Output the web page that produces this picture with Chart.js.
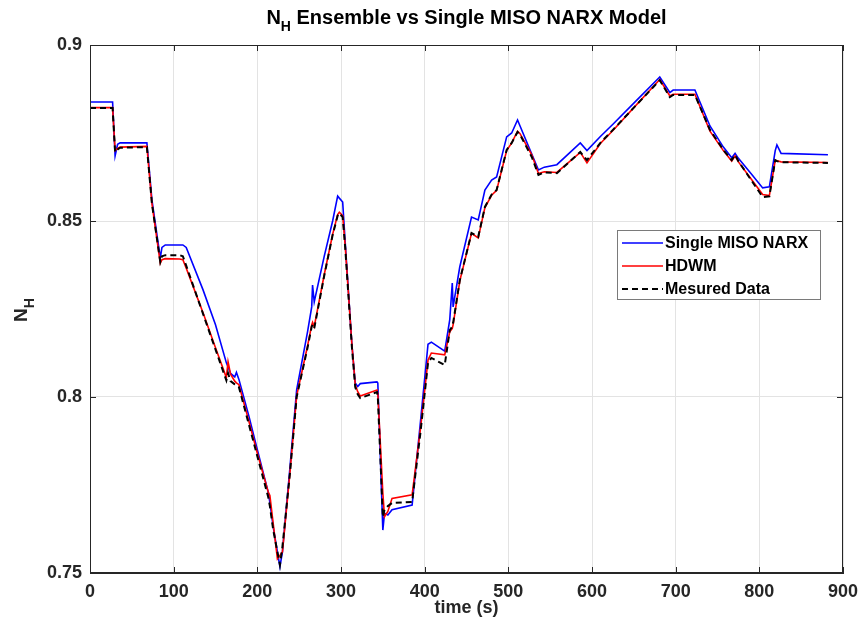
<!DOCTYPE html>
<html>
<head>
<meta charset="utf-8">
<script src="https://cdn.jsdelivr.net/npm/chart.js@4.4.1/dist/chart.umd.min.js"></script>
<style>
  body { margin: 0; background: #fff; }
  #wrap { width: 863px; height: 633px; }
</style>
</head>
<body>
<div id="wrap"><canvas id="grafico" width="863" height="633"></canvas></div>
<script>
// tiempo (s)
const tiempo = [0, 27, 30, 33, 36, 68, 74, 84, 86, 90, 107, 111, 115, 135, 150, 163, 165, 168, 173, 175,
  178, 190, 200, 213, 215, 219, 224, 227, 230, 239, 247, 260, 265, 266, 268, 280, 290, 296, 298, 302,
  305, 313, 317, 320, 323, 343, 344, 350, 352, 356, 361, 385, 395, 404, 408, 424, 430, 433, 434, 442,
  456, 464, 472, 480, 486, 498, 504, 511, 514, 528, 536, 543, 558, 586, 594, 610, 625, 650, 681, 693,
  697, 723, 741, 757, 767, 771, 775, 790, 804, 812, 819, 821, 826, 882];

// Single MISO NARX (azul)
const narx = [.8838, .8838, .8685, .8718, .8722, .8722, .8560, .8395, .8425, .8432, .8432, .8432, .8425, .8305, .8205, .8097, .8085, .8067, .8057, .8070,
  .8050, .7945, .7850, .7730, .7700, .7630, .7560, .7518, .7560, .7800, .8020, .8185, .8256, .8318, .8270, .8400, .8500, .8571, .8565, .8554,
  .8440, .8150, .8040, .8030, .8038, .8043, .8040, .7622, .7670, .7665, .7680, .7693, .7930, .8150, .8156, .8130, .8220, .8324, .8256, .8370,
  .8511, .8503, .8588, .8616, .8625, .8739, .8750, .8787, .8770, .8690, .8645, .8653, .8660, .8722, .8700, .8740, .8775, .8835, .8909, .8865,
  .8872, .8872, .8770, .8710, .8680, .8692, .8678, .8635, .8594, .8597, .8700, .8716, .8692, .8688];

// HDWM (rojo)
const hdwm = [.8822, .8822, .8700, .8706, .8710, .8712, .8550, .8380, .8390, .8393, .8392, .8390, .8366, .8240, .8140, .8055, .8100, .8065, .8045, .8040,
  .8035, .7930, .7840, .7730, .7720, .7640, .7540, .7550, .7560, .7785, .8003, .8145, .8205, .8212, .8200, .8348, .8462, .8518, .8525, .8515,
  .8430, .8150, .8035, .8015, .8003, .8020, .8010, .7727, .7660, .7675, .7712, .7722, .7910, .8105, .8125, .8120, .8185, .8195, .8205, .8330,
  .8465, .8452, .8538, .8573, .8587, .8700, .8722, .8755, .8748, .8688, .8635, .8640, .8638, .8695, .8665, .8720, .8757, .8822, .8902, .8855,
  .8860, .8860, .8755, .8700, .8670, .8685, .8668, .8620, .8575, .8572, .8672, .8671, .8668, .8666];

// Datos medidos (negro, discontinuo)
const medido = [.8821, .8821, .8696, .8703, .8708, .8710, .8550, .8384, .8400, .8403, .8403, .8400, .8373, .8237, .8135, .8047, .8068, .8045, .8036, .8033,
  .8028, .7921, .7832, .7716, .7690, .7622, .7560, .7523, .7575, .7784, .8000, .8140, .8200, .8205, .8195, .8345, .8460, .8515, .8522, .8511,
  .8426, .8142, .8028, .8008, .7997, .8014, .8000, .7659, .7680, .7690, .7699, .7702, .7900, .8097, .8111, .8091, .8190, .8200, .8210, .8332,
  .8466, .8455, .8540, .8575, .8588, .8702, .8722, .8753, .8745, .8682, .8631, .8638, .8636, .8696, .8673, .8722, .8759, .8822, .8900, .8852,
  .8858, .8858, .8759, .8702, .8673, .8688, .8670, .8617, .8568, .8570, .8673, .8670, .8667, .8665];

const ticksX = [0, 100, 200, 300, 400, 500, 600, 700, 800, 900];
const ticksY = [0.75, 0.8, 0.85, 0.9];

const FUENTE = '"Liberation Sans", Arial, Helvetica, sans-serif';
const GRIS = '#262626';

const puntos = serie => tiempo.map((t, i) => ({ x: t, y: serie[i] }));

// Texto con subíndice (N_H)
function textoSub(ctx, x, y, base, sub, resto, size) {
    ctx.font = `bold ${size}px ${FUENTE}`;
    const wB = ctx.measureText(base).width;
    const wR = ctx.measureText(resto).width;
    ctx.font = `bold ${Math.round(size * 0.72)}px ${FUENTE}`;
    const wS = ctx.measureText(sub).width;
    let cx = x - (wB + wS + wR) / 2;
    ctx.textAlign = 'left';
    ctx.textBaseline = 'alphabetic';
    ctx.font = `bold ${size}px ${FUENTE}`;
    ctx.fillText(base, cx, y);
    cx += wB;
    ctx.font = `bold ${Math.round(size * 0.72)}px ${FUENTE}`;
    ctx.fillText(sub, cx, y + size * 0.35);
    cx += wS;
    ctx.font = `bold ${size}px ${FUENTE}`;
    ctx.fillText(resto, cx, y);
}

const decoracion = {
    id: 'decoracion',
    afterDraw(chart) {
        const ctx = chart.ctx;
        const a = chart.chartArea;
        const sx = chart.scales.x, sy = chart.scales.y;
        ctx.save();

        // marco y marcas hacia dentro
        ctx.strokeStyle = GRIS;
        ctx.lineWidth = 1;
        ctx.strokeRect(a.left + 0.5, a.top + 0.5, a.right - a.left - 1, a.bottom - a.top - 1);
        ctx.beginPath();
        ticksX.forEach(v => {
            const px = Math.round(sx.getPixelForValue(v)) + 0.5;
            ctx.moveTo(px, a.bottom); ctx.lineTo(px, a.bottom - 6);
            ctx.moveTo(px, a.top); ctx.lineTo(px, a.top + 6);
        });
        ticksY.forEach(v => {
            const py = Math.round(sy.getPixelForValue(v)) + 0.5;
            ctx.moveTo(a.left, py); ctx.lineTo(a.left + 6, py);
            ctx.moveTo(a.right, py); ctx.lineTo(a.right - 6, py);
        });
        ctx.stroke();

        // titulo
        ctx.fillStyle = '#000';
        textoSub(ctx, (a.left + a.right) / 2, 24, 'N', 'H', ' Ensemble vs Single MISO NARX Model', 20);

        // etiqueta eje x
        ctx.fillStyle = GRIS;
        ctx.font = `bold 18px ${FUENTE}`;
        ctx.textAlign = 'center';
        ctx.fillText('time (s)', (a.left + a.right) / 2, 613);

        // etiqueta eje y (rotada)
        ctx.save();
        ctx.translate(27, 310);
        ctx.rotate(-Math.PI / 2);
        textoSub(ctx, 0, 0, 'N', 'H', '', 19);
        ctx.restore();

        // leyenda
        const lx = 617, ly = 230, lw = 203, lh = 69;
        ctx.fillStyle = '#fff';
        ctx.fillRect(lx, ly, lw, lh);
        ctx.strokeStyle = '#7a7a7a';
        ctx.strokeRect(lx + 0.5, ly + 0.5, lw, lh);
        chart.data.datasets.forEach((ds, i) => {
            const y = ly + 13 + i * 23;
            ctx.strokeStyle = ds.borderColor;
            ctx.lineWidth = ds.borderWidth;
            ctx.setLineDash(ds.borderDash || []);
            ctx.beginPath();
            ctx.moveTo(lx + 5, y); ctx.lineTo(lx + 46, y);
            ctx.stroke();
            ctx.setLineDash([]);
            ctx.fillStyle = '#000';
            ctx.font = `bold 16px ${FUENTE}`;
            ctx.textAlign = 'left';
            ctx.textBaseline = 'middle';
            ctx.fillText(ds.label, lx + 48, y + 1);
        });
        ctx.restore();
    }
};

new Chart(document.getElementById('grafico'), {
    type: 'line',
    data: {
        datasets: [
            { label: 'Single MISO NARX', data: puntos(narx), borderColor: '#0000ff', borderWidth: 1.6, order: 3 },
            { label: 'HDWM', data: puntos(hdwm), borderColor: '#ff0000', borderWidth: 1.6, order: 2 },
            { label: 'Mesured Data', data: puntos(medido), borderColor: '#000000', borderWidth: 2, borderDash: [6, 4], order: 1 }
        ]
    },
    options: {
        responsive: false,
        animation: false,
        layout: { padding: { top: 45, right: 20, left: 0, bottom: 0 } },
        elements: { point: { radius: 0 }, line: { tension: 0 } },
        plugins: { legend: { display: false }, title: { display: false }, tooltip: { enabled: false } },
        scales: {
            x: {
                type: 'linear', min: 0, max: 900,
                afterFit: s => { s.height = 60; s.paddingLeft = 0; s.paddingRight = 0; },
                afterBuildTicks: s => { s.ticks = ticksX.map(v => ({ value: v })); },
                ticks: { color: GRIS, font: { family: FUENTE, size: 18, weight: 'bold' }, padding: 8, maxRotation: 0 },
                grid: { color: '#e3e3e3', drawTicks: false },
                border: { color: GRIS }
            },
            y: {
                min: 0.75, max: 0.9,
                afterFit: s => { s.width = 90; s.paddingTop = 0; s.paddingBottom = 0; },
                afterBuildTicks: s => { s.ticks = ticksY.map(v => ({ value: v })); },
                ticks: {
                    color: GRIS, font: { family: FUENTE, size: 18, weight: 'bold' }, padding: 8,
                    callback: v => String(+v.toFixed(2))
                },
                grid: { color: '#e3e3e3', drawTicks: false },
                border: { color: GRIS }
            }
        }
    },
    plugins: [decoracion]
});
</script>
</body>
</html>
